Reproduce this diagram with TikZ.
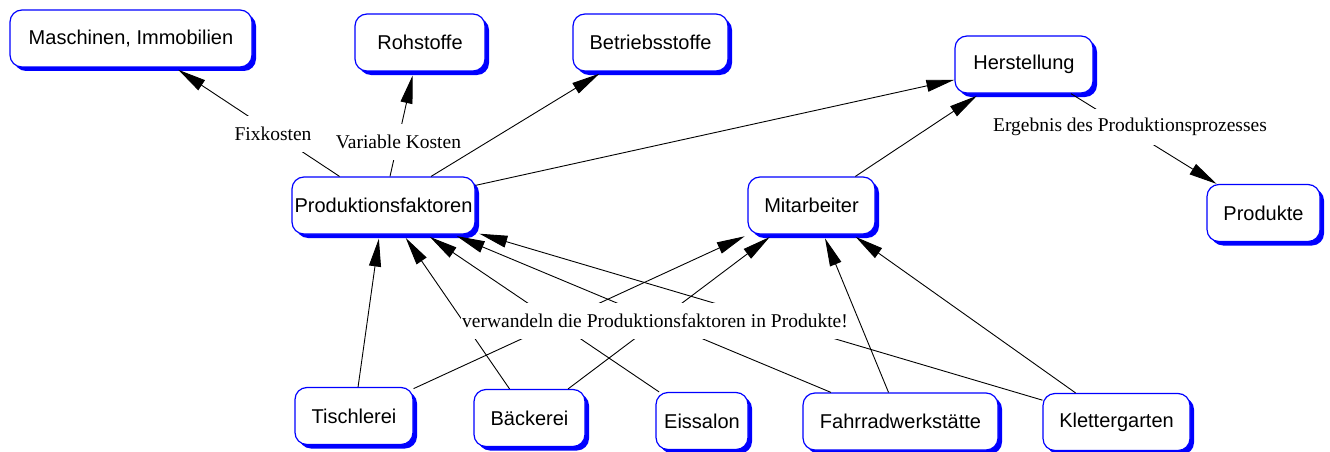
\documentclass[tikz,border=0pt]{standalone}
\usepackage{fontspec}
\setmainfont{Liberation Serif}
\setsansfont{Liberation Sans}
\usetikzlibrary{arrows.meta}
\usetikzlibrary{shadows}
\definecolor{cmap-blue}{RGB}{0, 0, 255}
\tikzset{
  konzept/.style={draw=cmap-blue, line width=1.2pt, fill=white, rounded corners=12pt, minimum height=57pt, inner xsep=2pt, font=\sffamily\fontsize{20}{24}\selectfont, drop shadow={shadow xshift=4pt, shadow yshift=-4pt, fill=cmap-blue, opacity=1}},
  phrase/.style={fill=white, inner xsep=1pt, inner ysep=0pt, minimum height=36pt, font=\rmfamily\fontsize{19.5}{23}\selectfont},
  pfeil/.style={line width=0.9pt, -{Triangle[length=28pt, width=12pt]}, shorten >=4pt}
}

\begin{document}
\begin{tikzpicture}[x=1pt, y=-1pt]
\useasboundingbox (0,0) rectangle (1330,452);
\node[konzept, minimum width=242pt] (masch) at (131,38.5) {Maschinen, Immobilien};
\node[konzept, minimum width=130pt] (roh) at (420,42.5) {Rohstoffe};
\node[konzept, minimum width=155pt] (betr) at (650.5,42.5) {Betriebsstoffe};
\node[konzept, minimum width=138pt] (herst) at (1024,64.5) {Herstellung};
\node[konzept, minimum width=183pt] (prod) at (383.5,205.5) {Produktionsfaktoren};
\node[konzept, minimum width=127pt] (mit) at (811.5,205.5) {Mitarbeiter};
\node[konzept, minimum width=113pt] (prodkt) at (1263.5,213) {Produkte};
\node[konzept, minimum width=118pt] (tisch) at (354,416) {Tischlerei};
\node[konzept, minimum width=111pt] (baeck) at (529.5,418) {Bäckerei};
\node[konzept, minimum width=92pt] (eis) at (702,421) {Eissalon};
\node[konzept, minimum width=195pt] (fahrrad) at (900.5,421.5) {Fahrradwerkstätte};
\node[konzept, minimum width=147pt] (kletter) at (1116.5,422) {Klettergarten};

\draw[pfeil] (prod) -- (masch);
\draw[pfeil] (prod) -- (roh);
\draw[pfeil, shorten >=0pt] (herst) -- (prodkt);
\draw[pfeil] (tisch) -- (mit);
\draw[pfeil] (baeck) -- (prod);
\draw[pfeil] (baeck) -- (mit);
\draw[pfeil] (eis) -- (prod);
\draw[pfeil] (fahrrad) -- (prod);
\draw[pfeil] (kletter) -- (prod);

\node[phrase] (fix) at (273,134) {Fixkosten};
\node[phrase] (vk) at (398.5,142) {Variable Kosten};
\node[phrase] (erg) at (1130,127) {Ergebnis des Produktionsprozesses};
\node[phrase] (verw) at (655,321) {verwandeln die Produktionsfaktoren in Produkte!};

\draw[pfeil] (prod) -- (betr);
\draw[pfeil, shorten >=0pt] (prod) -- (herst);
\draw[pfeil] (mit) -- (herst);
\draw[pfeil] (tisch) -- (prod);
\draw[pfeil] (fahrrad) -- (mit);
\draw[pfeil] (kletter) -- (mit);
\end{tikzpicture}
\end{document}
